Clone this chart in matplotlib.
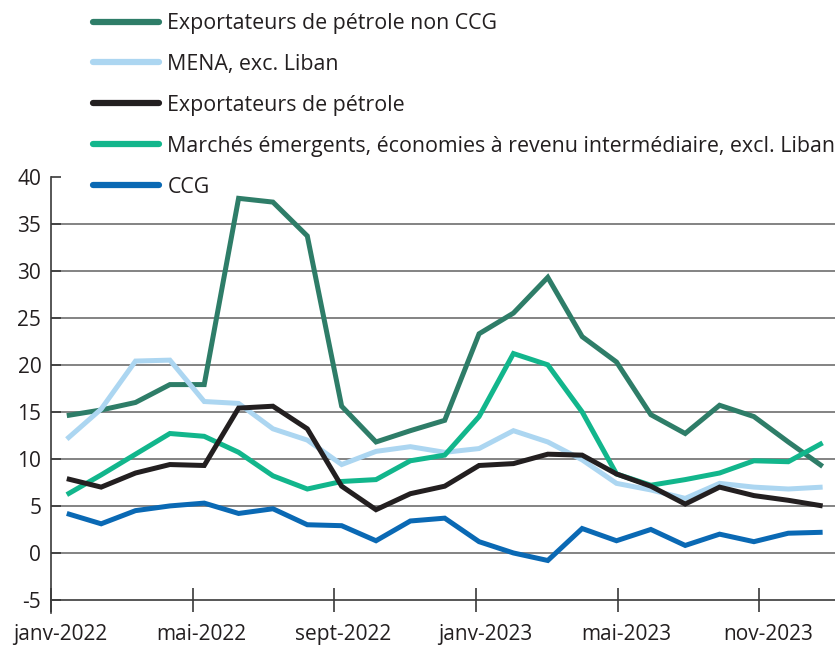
import matplotlib
matplotlib.use("Agg")
import matplotlib.pyplot as plt
import matplotlib.transforms as mtransforms
import numpy as np

plt.rcParams['font.family'] = ['Open Sans', 'DejaVu Sans']

months = list(range(23))  # janv-2022 .. nov-2023
tick_labels = ["janv-2022", "mai-2022", "sept-2022", "janv-2023", "mai-2023", "nov-2023"]

non_ccg = [14.6, 15.2, 16.0, 17.9, 17.9, 37.7, 37.3, 33.7, 15.6, 11.8, 13.0, 14.1,
           23.3, 25.5, 29.3, 23.0, 20.3, 14.7, 12.7, 15.7, 14.5, 11.8, 9.2]
mena = [12.1, 15.3, 20.4, 20.5, 16.1, 15.9, 13.2, 12.0, 9.4, 10.8, 11.3, 10.7,
        11.1, 13.0, 11.8, 9.9, 7.4, 6.7, 5.8, 7.4, 7.0, 6.8, 7.0]
oil_exp = [7.9, 7.0, 8.5, 9.4, 9.3, 15.4, 15.6, 13.2, 7.1, 4.6, 6.3, 7.1,
           9.3, 9.5, 10.5, 10.4, 8.4, 7.1, 5.2, 7.0, 6.1, 5.6, 5.0]
em_mi = [6.2, 8.3, 10.5, 12.7, 12.4, 10.7, 8.2, 6.8, 7.6, 7.8, 9.8, 10.4,
         14.5, 21.2, 20.0, 15.0, 8.4, 7.2, 7.8, 8.5, 9.8, 9.7, 11.7]
ccg = [4.2, 3.1, 4.5, 5.0, 5.3, 4.2, 4.7, 3.0, 2.9, 1.3, 3.4, 3.7,
       1.2, 0.0, -0.8, 2.6, 1.3, 2.5, 0.8, 2.0, 1.2, 2.1, 2.2]

series = [
    ("Exportateurs de pétrole non CCG", non_ccg, "#2e7d68", 2),
    ("MENA, exc. Liban", mena, "#acd6f1", 3),
    ("Exportateurs de pétrole", oil_exp, "#231f20", 5),
    ("Marchés émergents, économies à revenu intermédiaire, excl. Liban", em_mi, "#12b68c", 4),
    ("CCG", ccg, "#0a69b4", 6),
]

fs_leg = 15.4
fs_tick = 15.0

fig = plt.figure(figsize=(8.35, 6.51), dpi=100)
ax = fig.add_axes([51/835, 1-600/651, 1-51/835, (600-176.7)/651])

handles = []
for name, vals, col, z in series:
    h, = ax.plot(months, vals, color=col, lw=3.6, zorder=z, solid_joinstyle='miter',
                 solid_capstyle='butt', label=name)
    handles.append(h)

ax.set_ylim(-5, 40)
ax.set_xlim(-0.46, 22.36)
ax.set_yticks(np.arange(-5, 41, 5))
ax.set_yticklabels([str(v) for v in range(-5, 41, 5)])
tick_pos = [-0.46 + 4.124 * k for k in range(6)]
ax.set_xticks(tick_pos)
ax.set_xticklabels(tick_labels)

for v in range(0, 40, 5):
    ax.axhline(v, color="#7a7a7a", lw=1.3, zorder=1)

for s in ["top", "right"]:
    ax.spines[s].set_visible(False)
ax.spines["left"].set_color("#3a3a3a")
ax.spines["bottom"].set_color("#3a3a3a")
ax.spines["left"].set_linewidth(1.2)
ax.spines["bottom"].set_linewidth(1.2)
ax.spines["left"].set_bounds(-6.35, 40)

ax.tick_params(axis="y", direction="in", length=7, width=1.2, color="#3a3a3a",
               labelsize=fs_tick, pad=7, labelcolor="#231f20")
ax.tick_params(axis="x", direction="inout", length=17, width=1.2, color="#3a3a3a",
               labelsize=fs_tick, pad=9, labelcolor="#231f20")

offset = mtransforms.ScaledTranslation(9/100, 0, fig.dpi_scale_trans)
for lab in ax.get_xticklabels():
    lab.set_transform(lab.get_transform() + offset)

leg = fig.legend(handles=handles, loc="upper left", bbox_to_anchor=(93/835, 1-13/651),
                 frameon=False, fontsize=fs_leg, handlelength=3.1, handletextpad=0.38,
                 labelspacing=0.93, borderpad=0, borderaxespad=0)
for t in leg.get_texts():
    t.set_color("#231f20")
for l in leg.get_lines():
    l.set_linewidth(4.5)
    l.set_solid_capstyle('round')

fig.savefig("out.png", dpi=100)
